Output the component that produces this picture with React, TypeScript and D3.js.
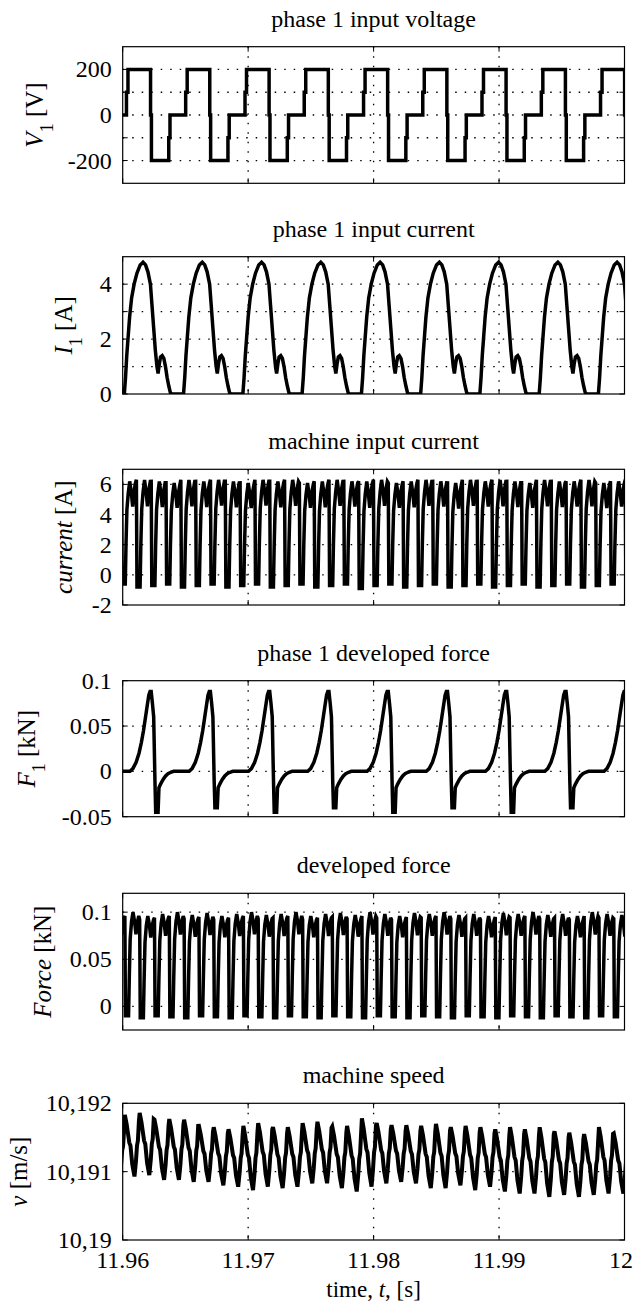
import React from 'react';
import * as d3 from 'd3';

const WIDTH = 634;
const HEIGHT = 1307;
const PLOT_LEFT = 122.7;
const PLOT_RIGHT = 624.5;
const FONT = "'Liberation Serif', 'Times New Roman', Times, serif";

const TIME_DOMAIN: [number, number] = [11.96, 12];
const TIME_TICKS = [11.96, 11.97, 11.98, 11.99, 12];
const TIME_TICK_LABELS = ['11.96', '11.97', '11.98', '11.99', '12'];

// instants at which the phase-1 voltage reaches +200 V (one per stroke)
const STROKE_STARTS = [11.96042, 11.96514, 11.96987, 11.97459, 11.97932, 11.98404, 11.98876, 11.99349, 11.99821];

// phase-1 voltage over one stroke: [offset from stroke start (s), V]
const STROKE_VOLTAGE: [number, number][] = [
  [-0.00012, 0], [-0.00012, 100], [0, 100], [0, 200], [0.0018, 200], [0.0018, 0],
  [0.00187, 0], [0.00187, -200], [0.00325, -200], [0.00325, -100], [0.00335, -100], [0.00335, 0],
];

// phase-1 current over one stroke: [offset (s), A]
const STROKE_CURRENT: [number, number][] = [
  [-0.00029, 0], [-0.000195, 0.6], [-0.0000975, 1.4], [0, 2.0], [0.00013, 2.8], [0.00029, 3.5],
  [0.00049, 4.0], [0.000715, 4.4], [0.000975, 4.7], [0.0012, 4.8], [0.0014, 4.7], [0.00159, 4.45],
  [0.00179, 4.0], [0.00192, 3.2], [0.00205, 2.4], [0.00218, 1.6], [0.00231, 1.0], [0.0024, 0.75],
  [0.0025, 1.1], [0.0026, 1.35], [0.00273, 1.4], [0.00286, 1.3], [0.00299, 1.0], [0.00312, 0.6],
  [0.00325, 0.3], [0.00338, 0.05], [0.00348, 0],
];

// phase-1 force over one stroke: [offset (s), kN]; the trough level comes from STROKE_FORCE_TROUGH
const STROKE_FORCE: [number, number | null][] = [
  [0.00016, 0], [0.00039, 0.003], [0.00065, 0.01], [0.00088, 0.02], [0.00107, 0.032], [0.00124, 0.045],
  [0.0014, 0.06], [0.00153, 0.072], [0.00166, 0.084], [0.00176, 0.088], [0.00185, 0.088], [0.00195, 0.075],
  [0.00205, 0.06], [0.00215, -0.01], [0.00221, null], [0.0024, null], [0.00247, -0.018], [0.0026, -0.014],
  [0.0028, -0.009], [0.003, -0.005], [0.00319, -0.0025], [0.00341, -0.001], [0.00364, 0],
];
const STROKE_FORCE_TROUGH = [-0.045, -0.04, -0.045, -0.04, -0.045, -0.04, -0.045, -0.04, -0.045];

// machine-level ripple: one tooth per phase commutation
const TOOTH_PERIOD = 0.001181;

const CURRENT_TOOTH_FIRST = 11.95991;
const CURRENT_TOOTH_PEAK = [6.2, 6.3, 6.2, 6.1, 6.3, 6.2, 6.3, 6.2, 6.1, 6.3, 6.2, 6.3, 6.1, 6.2, 6.3, 6.2, 6.2, 6.3,
  6.1, 6.2, 6.3, 6.2, 6.1, 6.3, 6.2, 6.3, 6.2, 6.1, 6.3, 6.2, 6.2, 6.3, 6.1, 6.2, 6.3];
const CURRENT_TOOTH_LOW = [-0.6, -0.8, -0.7, -0.6, -0.8, -0.7, -0.6, -0.8, -0.7, -0.6, -0.8, -0.7, -0.6, -0.8, -0.7,
  -0.6, -0.9, -0.7, -0.6, -0.8, -0.7, -0.6, -0.8, -0.7, -0.6, -0.8, -0.7, -0.6, -0.8, -0.7, -0.6, -0.8, -0.7, -0.6, -0.8];
// nominal tooth (peak 6.2 A, low -0.7 A): [fraction of tooth, A]
const CURRENT_TOOTH_SHAPE: [number, number][] = [
  [0, 6.2], [0.04, -0.7], [0.25, -0.7], [0.3, 2.0], [0.36, 4.3], [0.45, 5.4], [0.55, 6.2],
  [0.66, 5.4], [0.75, 4.5], [0.85, 5.6], [0.94, 6.1],
];

const FORCE_TOOTH_FIRST = 11.95899;
const FORCE_TOOTH_PEAK = [0.098, 0.1, 0.096, 0.098, 0.1, 0.097, 0.099, 0.096, 0.098, 0.1, 0.097, 0.098, 0.1, 0.096,
  0.098, 0.099, 0.097, 0.1, 0.098, 0.096, 0.099, 0.098, 0.1, 0.097, 0.098, 0.096, 0.099, 0.098, 0.1, 0.097, 0.098,
  0.096, 0.1, 0.098, 0.097];
const FORCE_TOOTH_LOW = [-0.011, -0.01, -0.012, -0.01, -0.011, -0.012, -0.01, -0.011, -0.012, -0.01, -0.011, -0.012,
  -0.01, -0.011, -0.012, -0.01, -0.011, -0.012, -0.01, -0.011, -0.012, -0.01, -0.011, -0.012, -0.01, -0.011, -0.012,
  -0.01, -0.011, -0.012, -0.01, -0.011, -0.012, -0.01, -0.011];
// nominal tooth (peak 0.098 kN, low -0.01 kN)
const FORCE_TOOTH_SHAPE: [number, number][] = [
  [0, 0.094], [0.04, -0.01], [0.25, -0.01], [0.3, 0.03], [0.36, 0.07], [0.45, 0.088], [0.55, 0.098],
  [0.66, 0.088], [0.75, 0.075], [0.85, 0.088], [0.94, 0.094],
];

const SPEED_TOOTH_FIRST = 11.95899;
const SPEED_PEAK = [10.1917, 10.19183, 10.19186, 10.19176, 10.19177, 10.19176, 10.19167, 10.19165, 10.19162, 10.19167,
  10.19171, 10.19165, 10.19165, 10.19171, 10.19173, 10.19166, 10.19167, 10.19178, 10.19171, 10.19168, 10.19168,
  10.19167, 10.1917, 10.19165, 10.19167, 10.19165, 10.19162, 10.19165, 10.19162, 10.19165, 10.19159, 10.19157,
  10.19155, 10.19165, 10.19156];
const SPEED_TROUGH = [10.19092, 10.19093, 10.19095, 10.19088, 10.19088, 10.19085, 10.19085, 10.1908, 10.19078,
  10.19073, 10.19078, 10.19076, 10.19078, 10.19083, 10.19083, 10.19076, 10.19071, 10.19078, 10.19083, 10.19085,
  10.19083, 10.19076, 10.19076, 10.1908, 10.19073, 10.19078, 10.19071, 10.19068, 10.19068, 10.19063, 10.19066,
  10.19063, 10.19066, 10.19068, 10.19068];
// one speed ripple, 1 = peak, 0 = trough
const SPEED_SHAPE: [number, number][] = [
  [0, 1], [0.12, 0.85], [0.3, 0.55], [0.38, 0.5], [0.5, 0.2], [0.65, 0], [0.75, 0.25], [0.82, 0.5],
  [0.88, 0.58], [0.95, 0.9],
];

type Pt = [number, number];

function strokeSeries(template: [number, number | null][], troughs?: number[]): Pt[] {
  const pts: Pt[] = [[TIME_DOMAIN[0], 0]];
  STROKE_STARTS.forEach((ts, j) => {
    template.forEach(([o, v]) => {
      pts.push([ts + o, v === null ? (troughs ? troughs[j] : 0) : v]);
    });
  });
  return pts;
}

function toothSeries(first: number, peaks: number[], lows: number[], shape: Pt[], nomLow: number, nomPeak: number): Pt[] {
  const pts: Pt[] = [];
  peaks.forEach((p, k) => {
    const t0 = first + k * TOOTH_PERIOD;
    const lo = lows[k];
    shape.forEach(([f, v]) => {
      pts.push([t0 + f * TOOTH_PERIOD, lo + ((v - nomLow) / (nomPeak - nomLow)) * (p - lo)]);
    });
  });
  return pts;
}

interface Panel {
  title: string;
  top: number;
  bottom: number;
  domain: [number, number];
  ticks: number[];
  tickLabels: string[];
  label: { main: string; italic: boolean; sub?: string; rest: string };
  labelX: number;
  lineWidth: number;
  data: Pt[];
}

const PANELS: Panel[] = [
  {
    title: 'phase 1 input voltage', top: 46.7, bottom: 183.3, domain: [-300, 300],
    ticks: [-200, -100, 0, 100, 200], tickLabels: ['-200', '', '0', '', '200'],
    label: { main: 'V', italic: true, sub: '1', rest: ' [V]' }, labelX: 43, lineWidth: 3.5,
    data: strokeSeries(STROKE_VOLTAGE),
  },
  {
    title: 'phase 1 input current', top: 256.7, bottom: 394, domain: [0, 5],
    ticks: [0, 1, 2, 3, 4], tickLabels: ['0', '', '2', '', '4'],
    label: { main: 'I', italic: true, sub: '1', rest: ' [A]' }, labelX: 72, lineWidth: 3.5,
    data: strokeSeries(STROKE_CURRENT),
  },
  {
    title: 'machine input current', top: 469.3, bottom: 605, domain: [-2, 7],
    ticks: [-2, 0, 2, 4, 6], tickLabels: ['-2', '0', '2', '4', '6'],
    label: { main: 'current', italic: true, rest: ' [A]' }, labelX: 72, lineWidth: 3.5,
    data: toothSeries(CURRENT_TOOTH_FIRST, CURRENT_TOOTH_PEAK, CURRENT_TOOTH_LOW, CURRENT_TOOTH_SHAPE, -0.7, 6.2),
  },
  {
    title: 'phase 1 developed force', top: 680.7, bottom: 816.7, domain: [-0.05, 0.1],
    ticks: [-0.05, 0, 0.05, 0.1], tickLabels: ['-0.05', '0', '0.05', '0.1'],
    label: { main: 'F', italic: true, sub: '1', rest: ' [kN]' }, labelX: 35, lineWidth: 3.5,
    data: strokeSeries(STROKE_FORCE, STROKE_FORCE_TROUGH),
  },
  {
    title: 'developed force', top: 893.3, bottom: 1030, domain: [-0.025, 0.12],
    ticks: [0, 0.05, 0.1], tickLabels: ['0', '0.05', '0.1'],
    label: { main: 'Force', italic: true, rest: ' [kN]' }, labelX: 50.5, lineWidth: 3.5,
    data: toothSeries(FORCE_TOOTH_FIRST, FORCE_TOOTH_PEAK, FORCE_TOOTH_LOW, FORCE_TOOTH_SHAPE, -0.01, 0.098),
  },
  {
    title: 'machine speed', top: 1103.3, bottom: 1240, domain: [10.19, 10.192],
    ticks: [10.19, 10.191, 10.192], tickLabels: ['10,19', '10,191', '10,192'],
    label: { main: 'ν', italic: true, rest: ' [m/s]' }, labelX: 27, lineWidth: 4,
    data: toothSeries(SPEED_TOOTH_FIRST, SPEED_PEAK, SPEED_TROUGH, SPEED_SHAPE, 0, 1),
  },
];

const x = d3.scaleLinear().domain(TIME_DOMAIN).range([PLOT_LEFT, PLOT_RIGHT]);
const TICK_LEN = 5;
const GRID_DASH = '1.5,8';
const TICK_FONT = 24;
const TITLE_FONT = 24;
const LABEL_FONT = 25;

function PanelView({ p, idx, last }: { p: Panel; idx: number; last: boolean }) {
  const y = d3.scaleLinear().domain(p.domain).range([p.bottom, p.top]);
  const line = d3.line<Pt>().x((d) => x(d[0])).y((d) => y(d[1]));
  const clipId = `clip-${idx}`;
  const cx = (PLOT_LEFT + PLOT_RIGHT) / 2;
  const cy = (p.top + p.bottom) / 2;
  const innerX = TIME_TICKS.filter((t) => t > TIME_DOMAIN[0] && t < TIME_DOMAIN[1]);
  const innerY = p.ticks.filter((v) => y(v) > p.top + 0.5 && y(v) < p.bottom - 0.5);
  return (
    <g>
      <defs>
        <clipPath id={clipId}>
          <rect x={PLOT_LEFT} y={p.top} width={PLOT_RIGHT - PLOT_LEFT} height={p.bottom - p.top} />
        </clipPath>
      </defs>
      <text x={cx} y={p.top - 20} textAnchor="middle" fontSize={TITLE_FONT} fontFamily={FONT}>{p.title}</text>
      {/* dotted grid */}
      {innerX.map((t) => (
        <line key={`gx${t}`} x1={x(t)} x2={x(t)} y1={p.top} y2={p.bottom} stroke="#000" strokeWidth={1.3} strokeDasharray={GRID_DASH} />
      ))}
      {innerY.map((v) => (
        <line key={`gy${v}`} x1={PLOT_LEFT} x2={PLOT_RIGHT} y1={y(v)} y2={y(v)} stroke="#000" strokeWidth={1.3} strokeDasharray={GRID_DASH} />
      ))}
      {/* trace */}
      <path d={line(p.data) || ''} fill="none" stroke="#000" strokeWidth={p.lineWidth} strokeLinejoin="miter" strokeMiterlimit={3} clipPath={`url(#${clipId})`} />
      {/* box */}
      <rect x={PLOT_LEFT} y={p.top} width={PLOT_RIGHT - PLOT_LEFT} height={p.bottom - p.top} fill="none" stroke="#000" strokeWidth={1.2} />
      {/* tick marks, inside on all four sides */}
      {p.ticks.map((v) => (
        <g key={`ty${v}`}>
          <line x1={PLOT_LEFT} x2={PLOT_LEFT + TICK_LEN} y1={y(v)} y2={y(v)} stroke="#000" strokeWidth={1} />
          <line x1={PLOT_RIGHT - TICK_LEN} x2={PLOT_RIGHT} y1={y(v)} y2={y(v)} stroke="#000" strokeWidth={1} />
        </g>
      ))}
      {TIME_TICKS.map((t) => (
        <g key={`tx${t}`}>
          <line x1={x(t)} x2={x(t)} y1={p.bottom} y2={p.bottom - TICK_LEN} stroke="#000" strokeWidth={1} />
          <line x1={x(t)} x2={x(t)} y1={p.top} y2={p.top + TICK_LEN} stroke="#000" strokeWidth={1} />
        </g>
      ))}
      {/* y tick labels */}
      {p.ticks.map((v, i) =>
        p.tickLabels[i] ? (
          <text key={`yl${v}`} x={PLOT_LEFT - 11} y={y(v) + 8} textAnchor="end" fontSize={TICK_FONT} fontFamily={FONT}>
            {p.tickLabels[i]}
          </text>
        ) : null,
      )}
      {/* y label */}
      <text transform={`translate(${p.labelX},${cy}) rotate(-90)`} textAnchor="middle" fontSize={LABEL_FONT} fontFamily={FONT}>
        <tspan fontStyle={p.label.italic ? 'italic' : 'normal'}>{p.label.main}</tspan>
        {p.label.sub ? (
          <tspan fontSize={18} dy={10}>{p.label.sub}</tspan>
        ) : null}
        <tspan dy={p.label.sub ? -10 : 0}>{p.label.rest}</tspan>
      </text>
      {last ? (
        <g>
          {TIME_TICKS.map((t, i) => {
            const isLast = i === TIME_TICKS.length - 1;
            return (
              <text
                key={`xl${t}`}
                x={isLast ? WIDTH - 1 : x(t)}
                y={p.bottom + 28}
                textAnchor={isLast ? 'end' : 'middle'}
                fontSize={TICK_FONT}
                fontFamily={FONT}
              >
                {TIME_TICK_LABELS[i]}
              </text>
            );
          })}
          <text x={cx} y={p.bottom + 57} textAnchor="middle" fontSize={23} fontFamily={FONT}>
            time, <tspan fontStyle="italic">t</tspan>, [s]
          </text>
        </g>
      ) : null}
    </g>
  );
}

export default function App() {
  return (
    <svg
      width={WIDTH}
      height={HEIGHT}
      viewBox={`0 0 ${WIDTH} ${HEIGHT}`}
      style={{ position: 'absolute', left: 0, top: 0, background: '#fff' }}
    >
      <rect x={0} y={0} width={WIDTH} height={HEIGHT} fill="#fff" />
      {PANELS.map((p, i) => (
        <PanelView key={p.title} p={p} idx={i} last={i === PANELS.length - 1} />
      ))}
    </svg>
  );
}
